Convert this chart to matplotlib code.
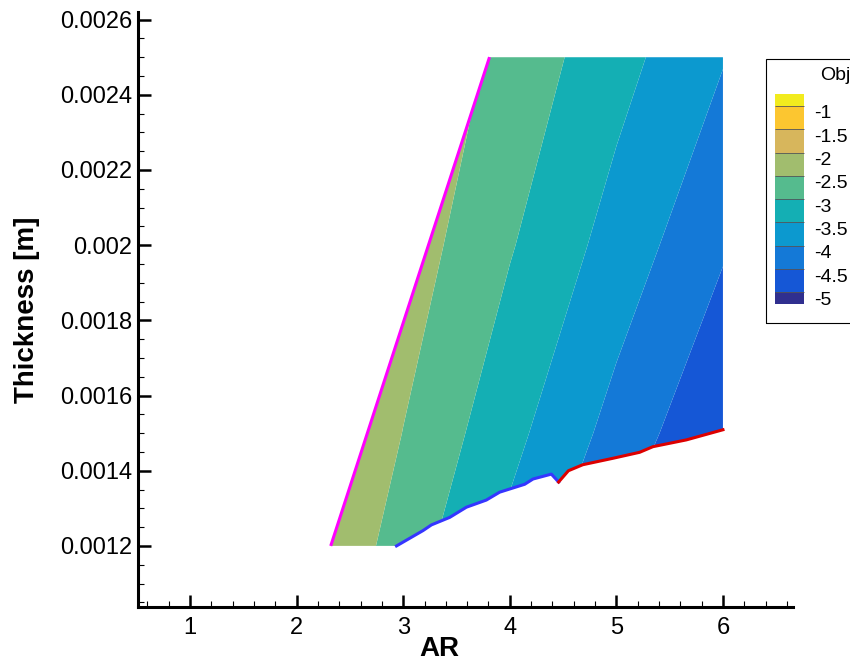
import numpy as np
import matplotlib
matplotlib.use("Agg")
import matplotlib.pyplot as plt
from matplotlib.colors import ListedColormap, BoundaryNorm
from matplotlib.cm import ScalarMappable
from matplotlib.patches import Polygon, Rectangle
from matplotlib.transforms import ScaledTranslation
from matplotlib.ticker import MultipleLocator, FixedLocator

plt.rcParams['font.family'] = ['Liberation Sans', 'DejaVu Sans']

# ---------------- data ----------------
# objective field estimated on a coarse grid (AR x thickness)
ar_grid = [2.0, 3.0, 4.0, 5.0, 6.0]
thick_grid = [0.0012, 0.0015, 0.0020, 0.0025]
obj_t0012 = [-1.83, -2.73, -3.64, -4.54, -5.44]
obj_t0015 = [-1.68, -2.51, -3.35, -4.18, -4.97]
obj_t0020 = [-1.48, -2.22, -2.96, -3.70, -4.44]
obj_t0025 = [-1.36, -2.01, -2.66, -3.32, -3.97]

# feasible-region boundaries
left_ar = [2.32, 3.81]
left_t = [0.0012, 0.0025]
bottom_ar = [2.32, 2.937]
bottom_t = [0.0012, 0.0012]
blue_ar = [2.937, 3.187, 3.265, 3.437, 3.593, 3.78, 3.905, 4.14, 4.218, 4.39, 4.458]
blue_t = [0.00120, 0.001241, 0.001256, 0.001276, 0.001303, 0.001322, 0.001343,
          0.001364, 0.001378, 0.001391, 0.001370]
red_ar = [4.458, 4.55, 4.685, 4.966, 5.218, 5.343, 5.656, 6.0]
red_t = [0.001370, 0.001400, 0.001416, 0.001433, 0.001449, 0.001464, 0.001482, 0.001509]
right_ar = [6.0, 6.0]
right_t = [0.001509, 0.0025]
top_ar = [6.0, 3.81]
top_t = [0.0025, 0.0025]

levels = [-5.0, -4.5, -4.0, -3.5, -3.0, -2.5, -2.0, -1.5, -1.0]
level_labels = ['-5', '-4.5', '-4', '-3.5', '-3', '-2.5', '-2', '-1.5', '-1']
band_colors = ['#302F8F', '#1557D6', '#1479D7', '#0C99CF', '#14AFB4',
               '#55BB8E', '#A1BD6E', '#D7B65C', '#FCC630', '#F2EB1E']

xticks = [1, 2, 3, 4, 5, 6]
yticks = [0.0012, 0.0014, 0.0016, 0.0018, 0.0020, 0.0022, 0.0024, 0.0026]
ytick_labels = ['0.0012', '0.0014', '0.0016', '0.0018', '0.002', '0.0022', '0.0024', '0.0026']

# ---------------- figure ----------------
fig = plt.figure(figsize=(8.5, 6.62), dpi=100)
ax = fig.add_axes([138/850, 1-607/662, 655/850, (607-12)/662])

Z = np.array([obj_t0012, obj_t0015, obj_t0020, obj_t0025])
bounds = [levels[0] - 0.25] + levels + [levels[-1] + 0.25]
cmap = ListedColormap(band_colors)
norm = BoundaryNorm(bounds, cmap.N)
cs = ax.contourf(ar_grid, thick_grid, Z, levels=bounds, cmap=cmap, norm=norm,
                 extend='both', antialiased=True)

poly_x = bottom_ar + blue_ar[1:] + red_ar[1:] + right_ar[1:] + top_ar[1:] + [left_ar[0]]
poly_y = bottom_t + blue_t[1:] + red_t[1:] + right_t[1:] + top_t[1:] + [left_t[0]]
clip = Polygon(np.column_stack([poly_x, poly_y]), closed=True, transform=ax.transData,
               facecolor='none', edgecolor='none')
ax.add_patch(clip)
cs.set_clip_path(clip)

ax.plot(left_ar, left_t, color='#FF00FF', lw=2.2, zorder=5, solid_capstyle='butt')
ax.plot(blue_ar, blue_t, color='#3535FF', lw=2.2, zorder=5)
ax.plot(red_ar, red_t, color='#DD0000', lw=2.2, zorder=5)

ax.set_xlim(0.512, 6.657)
ax.set_ylim(0.0010376, 0.00262)
for s in ['top', 'right']:
    ax.spines[s].set_visible(False)
for s in ['left', 'bottom']:
    ax.spines[s].set_linewidth(2.2)

ax.xaxis.set_major_locator(FixedLocator(xticks))
ax.xaxis.set_minor_locator(MultipleLocator(0.2))
ax.set_yticks(yticks)
ax.set_yticklabels(ytick_labels)
ax.yaxis.set_minor_locator(MultipleLocator(0.00005))
ax.tick_params(which='major', direction='in', length=9, width=1.8, labelsize=17)
ax.tick_params(which='minor', direction='in', length=4.5, width=0.8)
ax.tick_params(axis='x', which='major', pad=7)
ax.tick_params(axis='y', which='major', pad=4)

ax.set_xlabel('AR', fontsize=20, fontweight='bold')
ax.xaxis.set_label_coords(0.4595, -0.0485)
ax.set_ylabel('Thickness [m]', fontsize=20, fontweight='bold')
ax.yaxis.set_label_coords(-0.150, 0.5)

# ---------------- legend ----------------
fig.patches.append(Rectangle((766/850, 1-322.7/662), 0.2, (322.7-59)/662,
                             transform=fig.transFigure, fill=False,
                             edgecolor='black', lw=0.8))
fig.text(820/850, 1-76/662, 'Obj', fontsize=14, ha='left', va='center')
cax = fig.add_axes([775/850, 1-304/662, 29/850, (304-94.3)/662])
sm = ScalarMappable(norm=norm, cmap=cmap)
cb = fig.colorbar(sm, cax=cax, boundaries=bounds, ticks=levels,
                  spacing='proportional', drawedges=True)
cb.outline.set_visible(False)
cb.dividers.set_color('#555555')
cb.dividers.set_linewidth(0.6)
cb.ax.minorticks_off()
cb.ax.set_yticks(levels)
cb.ax.set_yticklabels(level_labels)
cb.ax.tick_params(which='both', length=0, pad=7, labelsize=14)
off = ScaledTranslation(0, -6/100, fig.dpi_scale_trans)
for lab in cb.ax.get_yticklabels():
    lab.set_transform(lab.get_transform() + off)

fig.savefig('out.png', dpi=100)
